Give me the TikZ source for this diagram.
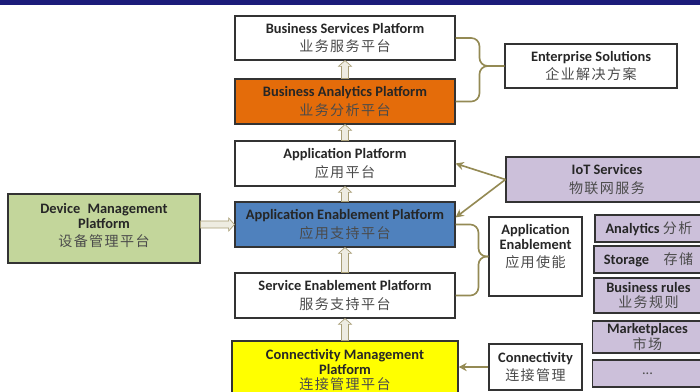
\documentclass[tikz,border=0pt]{standalone}
\usepackage{fontspec}
\setmainfont{Carlito}
\newfontfamily\cjk[LetterSpace=10]{Noto Sans CJK SC}
\usepackage{xcolor}
\usetikzlibrary{positioning,calc,arrows.meta}

\definecolor{navybar}{RGB}{28,28,122}
\definecolor{orangebox}{RGB}{228,108,10}
\definecolor{bluebox}{RGB}{79,129,189}
\definecolor{greenbox}{RGB}{195,214,155}
\definecolor{yellowbox}{RGB}{255,255,0}
\definecolor{purplebox}{RGB}{204,192,218}
\definecolor{linkolive}{RGB}{148,138,84}
\definecolor{arrowfill}{RGB}{238,236,225}
\definecolor{arrowedge}{RGB}{168,158,118}
\definecolor{zhgray}{RGB}{75,75,75}

% Chinese subtitle inside a box
\newcommand{\zh}[1]{{\cjk\mdseries\fontsize{12}{15}\selectfont\color{zhgray}#1}}

% hollow block arrows between stacked platforms
\newcommand{\hollowup}[2]{%
  \path [hollow] let \p1=(#1.north), \p2=(#2.south) in
    (\x1-3pt,\y1) -- (\x1-3pt,\y2-5pt) -- (\x1-5.6pt,\y2-5pt) -- (\x1,\y2)
    -- (\x1+5.6pt,\y2-5pt) -- (\x1+3pt,\y2-5pt) -- (\x1+3pt,\y1) -- cycle;}
\newcommand{\hollowright}[2]{%
  \path [hollow] let \p1=(#1.east), \p2=(#2.west) in
    (\x1,\y2-3pt) -- (\x2-5pt,\y2-3pt) -- (\x2-5pt,\y2-5.6pt) -- (\x2,\y2)
    -- (\x2-5pt,\y2+5.6pt) -- (\x2-5pt,\y2+3pt) -- (\x1,\y2+3pt) -- cycle;}

\begin{document}
\begin{tikzpicture}[
    x=0.03cm, y=-0.03cm,
    base/.style={draw=black!80, line width=0.9pt, align=center, inner sep=1pt,
        text=black!85, font={\fontsize{12.3}{15.5}\selectfont\bfseries}},
    plat/.style={base, minimum width=6.6cm, minimum height=1.35cm},
    side/.style={base, minimum width=2.79cm},
    tile/.style={base, fill=purplebox, minimum width=3.3cm, minimum height=0.81cm},
    link/.style={draw=linkolive, line width=1.4pt, -{Stealth[length=7pt,width=7pt]}},
    bracket/.style={draw=linkolive, line width=1.4pt, rounded corners=7pt},
    hollow/.style={draw=arrowedge, fill=arrowfill, line width=0.6pt}
]
    \useasboundingbox (0,0) rectangle (700,391);
    \clip (0,0) rectangle (700,391);
    \fill [navybar] (0,0) rectangle (700,4.5);

    % platform stack
    \node [plat, minimum height=1.32cm] (bsp) at (345,38) {Business Services Platform\\\zh{业务服务平台}};
    \node [plat, fill=orangebox] (bap) at (345,101.5) {Business Analytics Platform\\\zh{业务分析平台}};
    \node [plat] (app) at (345,163.5) {Application Platform\\\zh{应用平台}};
    \node [plat, fill=bluebox] (aep) at (345,224.5) {Application Enablement Platform\\\zh{应用支持平台}};
    \node [plat] (sep) at (345,295.5) {Service Enablement Platform\\\zh{服务支持平台}};
    \node [plat, fill=yellowbox, minimum width=6.78cm, minimum height=1.74cm] (cmp) at (345,370)
        {Connectivity Management\\[-2.5pt]Platform\\[-2.5pt]\zh{连接管理平台}};

    \node [base, fill=greenbox, minimum width=5.76cm, minimum height=2.07cm] (dmp) at (104,228.5)
        {Device\enspace Management\\[-2.5pt]Platform\\\zh{设备管理平台}\\[-9pt]\mbox{}};

    % right hand side
    \node [base, minimum width=5.16cm, minimum height=1.32cm] (ent) at (591,66) {Enterprise Solutions\\\zh{企业解决方案}};
    \node [base, fill=purplebox, minimum width=6.06cm, minimum height=1.35cm] (iot) at (607,179.5) {IoT Services\\\zh{物联网服务}};
    \node [side, minimum height=2.37cm] (ae) at (535.5,256.5)
        {Application\\[-2.5pt]Enablement\\\zh{应用使能}\\[3pt]\mbox{}};
    \node [side, minimum height=1.38cm] (conn) at (535.5,367) {Connectivity\\\zh{连接管理}};

    \node [tile, minimum width=3.24cm] (ana) at (649,228.5) {Analytics \zh{分析}};
    \node [tile, minimum width=3.27cm] (sto) at (648.5,259.5) {Storage\quad\zh{存储}};
    \node [tile, minimum width=3.27cm, minimum height=1.05cm] (bru) at (648.5,295.5) {Business rules\\[-2pt]\zh{业务规则}};
    \node [tile, minimum height=0.96cm] (mkt) at (647.5,337) {Marketplaces\\[-2pt]\zh{市场}};
    \node [tile] (more) at (647.5,373.5) {\textcolor{zhgray}{\mdseries ...}};

    % hollow arrows
    \hollowup{bap}{bsp}
    \hollowup{app}{bap}
    \hollowup{aep}{app}
    \hollowup{sep}{aep}
    \hollowup{cmp}{sep}
    \hollowright{dmp}{aep}

    % brackets and links
    \coordinate (entj) at ([xshift=-0.75cm]ent.west);
    \draw [bracket] (bsp.east) -| (entj) -- (ent.west);
    \draw [bracket] (bap.east) -| (entj) -- (ent.west);

    \coordinate (aej) at ([xshift=-0.3cm]ae.west);
    \draw [bracket] (aep.east) -| (aej) -- (ae.west);
    \draw [bracket] (sep.east) -| (aej) -- (ae.west);

    \draw [link] (iot.west) -- (app.east);
    \draw [link] (iot.west) -- ([yshift=6pt]aep.east);
    \draw [link] (conn.west) -- (conn.west -| cmp.east);
\end{tikzpicture}
\end{document}
